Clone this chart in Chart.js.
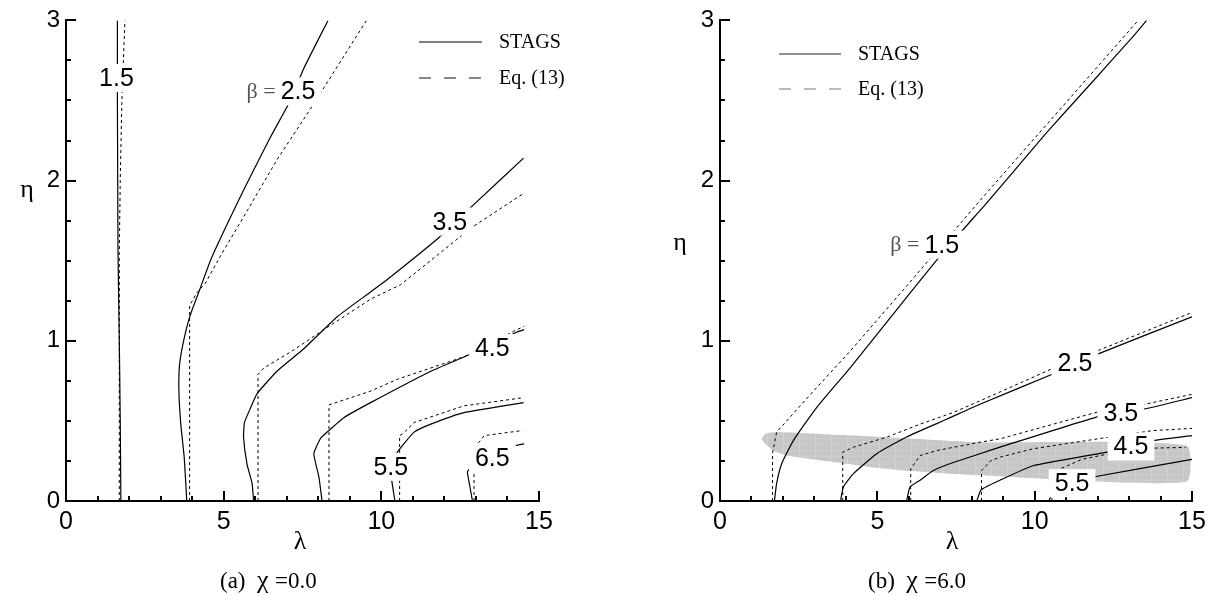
<!DOCTYPE html>
<html>
<head>
<meta charset="utf-8">
<script src="https://cdn.jsdelivr.net/npm/chart.js@4.4.1/dist/chart.umd.min.js"></script>
<style>
  html, body { margin: 0; padding: 0; background: #fff; }
  #wrap { position: relative; width: 1214px; height: 596px; }
  .panel { position: absolute; top: 0; width: 607px; height: 596px; }
</style>
</head>
<body>
<div id="wrap">
  <div class="panel" style="left:0"><canvas id="chartA" width="607" height="596"></canvas></div>
  <div class="panel" style="left:607px"><canvas id="chartB" width="607" height="596"></canvas></div>
</div>
<script>
// ---- contour lines, panel (a): chi = 0.0  ([lambda, eta] pairs) ----
const a15Stags = [[1.74,0],[1.72,0.5],[1.69,1],[1.65,1.55],[1.64,2],[1.63,2.5],[1.63,3]];
const a15Eq    = [[1.69,0],[1.69,0.5],[1.69,1],[1.69,1.55],[1.72,2],[1.77,2.48],[1.82,2.75],[1.87,3]];
const a25Stags = [[3.83,0],[3.75,0.27],[3.64,0.48],[3.58,0.69],[3.60,0.85],[3.73,1.0],[3.94,1.16],[4.26,1.33],[4.62,1.52],[5.63,1.94],[6.48,2.27],[7.09,2.49],[7.54,2.70],[8.31,3.0]];
const a25Eq    = [[3.92,0],[3.92,1.22],[4.15,1.30],[4.42,1.36],[4.90,1.53],[5.80,1.83],[6.69,2.13],[7.86,2.48],[8.18,2.58],[9.53,3.0]];
const a35Stags = [[5.95,0],[5.90,0.11],[5.74,0.23],[5.63,0.40],[5.66,0.49],[5.85,0.58],[6.06,0.67],[6.69,0.81],[7.54,0.95],[8.60,1.15],[9.66,1.305],[10.30,1.40],[11.83,1.645],[12.82,1.83],[14.51,2.14]];
const a35Eq    = [[6.09,0],[6.09,0.79],[6.27,0.83],[7.12,0.93],[8.18,1.07],[9.66,1.26],[10.61,1.35],[12.47,1.645],[12.89,1.71],[14.51,1.92]];
const a45Stags = [[8.12,0],[8.02,0.15],[7.86,0.295],[8.07,0.39],[8.28,0.43],[8.81,0.52],[9.66,0.614],[11.57,0.81],[12.78,0.913],[14.3,1.055],[14.53,1.07]];
const a45Eq    = [[8.34,0],[8.34,0.60],[9.66,0.686],[10.51,0.76],[12.62,0.90],[14.3,1.07],[14.53,1.09]];
const a55Stags = [[10.43,0],[10.33,0.13],[10.30,0.21],[10.51,0.305],[11.04,0.43],[11.57,0.48],[12.62,0.552],[14.51,0.614]];
const a55Eq    = [[10.58,0],[10.58,0.408],[10.67,0.418],[11.04,0.49],[12.62,0.594],[14.51,0.645]];
const a65Stags = [[12.89,0],[12.80,0.10],[12.73,0.18],[12.80,0.20],[14.27,0.346],[14.53,0.357]];
const a65Eq    = [[12.94,0],[12.94,0.34],[13.10,0.367],[13.26,0.408],[14.48,0.44]];

// ---- contour lines, panel (b): chi = 6.0 ----
const b15Stags = [[1.73,0],[1.80,0.11],[1.96,0.233],[2.33,0.377],[3.07,0.583],[4.13,0.83],[5.72,1.22],[7.0,1.53],[8.47,1.86],[9.11,2.006],[10.38,2.3],[11.76,2.6],[13.13,2.9],[13.56,3.0]];
const b15Eq    = [[1.67,0],[1.67,0.30],[1.69,0.32],[1.80,0.43],[2.12,0.50],[2.97,0.686],[4.13,0.934],[5.72,1.294],[8.37,1.90],[13.29,3.0]];
const b25Stags = [[3.83,0],[3.92,0.088],[4.24,0.171],[4.98,0.295],[5.93,0.40],[7.2,0.51],[8.26,0.604],[10.54,0.79],[12.08,0.923],[15,1.15]];
const b25Eq    = [[3.90,0],[3.90,0.305],[4.24,0.336],[5.30,0.398],[6.36,0.48],[7.41,0.552],[8.26,0.625],[10.49,0.82],[12.08,0.944],[15,1.177]];
const b35Stags = [[5.93,0],[6.04,0.088],[6.36,0.13],[6.78,0.19],[7.41,0.24],[8.26,0.295],[8.9,0.336],[12.08,0.53],[13.5,0.575],[15,0.645]];
const b35Eq    = [[6.06,0],[6.06,0.20],[6.36,0.284],[6.89,0.315],[8.26,0.367],[8.9,0.388],[12.08,0.56],[13.5,0.604],[15,0.666]];
const b45Stags = [[8.16,0],[8.30,0.07],[8.9,0.13],[9.95,0.22],[12.29,0.305],[13.77,0.377],[15,0.408]];
const b45Eq    = [[8.31,0],[8.31,0.19],[8.6,0.25],[8.9,0.274],[9.95,0.326],[12.07,0.39],[13.77,0.44],[15,0.453]];
const b55Stags = [[10.45,0],[10.6,0.06],[11.0,0.11],[11.86,0.15],[15,0.26]];
const b55Eq    = [[10.55,0],[10.55,0.12],[10.8,0.20],[11.5,0.26],[12.5,0.30],[13.8,0.33],[14.8,0.335]];

// shaded zone in panel (b)
const bShade = [[1.32,0.39],[1.45,0.42],[1.8,0.43],[3.18,0.418],[5.3,0.398],[8.26,0.367],[14.83,0.346],[14.83,0.12],[8.26,0.16],[5.3,0.2],[3.18,0.254],[2.12,0.284],[1.69,0.315],[1.38,0.37],[1.32,0.39]];

// contour labels: text and [lambda, eta] centre
const aLabelText = ['1.5', '2.5', '3.5', '4.5', '5.5', '6.5'];
const aLabelPos  = [[1.60,2.64],[7.36,2.557],[12.17,1.744],[13.52,0.955],[10.30,0.213],[13.52,0.269]];
const bLabelText = ['1.5', '2.5', '3.5', '4.5', '5.5'];
const bLabelPos  = [[7.05,1.60],[11.28,0.861],[12.74,0.547],[13.06,0.34],[11.19,0.111]];

// axis ticks
const xTickValues = [0, 5, 10, 15];
const yTickValues = [0, 1, 2, 3];

const SANS = '"Liberation Sans", Arial, sans-serif';
const SERIF = '"Liberation Serif", "Times New Roman", serif';

function pts(arr) { return arr.map(p => ({ x: p[0], y: p[1] })); }

function line(arr, dashed) {
  return {
    data: pts(arr),
    showLine: true,
    borderColor: '#000',
    borderWidth: dashed ? 1 : 1.2,
    borderDash: dashed ? [3, 3] : [],
    pointRadius: 0,
    tension: dashed ? 0 : 0.15,
    fill: false,
    order: 0
  };
}

// light mesh texture for the shaded zone
function meshPattern() {
  const c = document.createElement('canvas');
  c.width = 16; c.height = 6;
  const g = c.getContext('2d');
  g.fillStyle = '#c7c7c7';
  g.fillRect(0, 0, 16, 6);
  g.fillStyle = '#d3d3d3';
  g.fillRect(0, 0, 1, 6);
  g.fillStyle = '#cdcdcd';
  g.fillRect(0, 0, 16, 1);
  return g.createPattern(c, 'repeat');
}

function decorPlugin(opt) {
  return {
    id: 'decor',
    afterDraw(chart) {
      const ctx = chart.ctx;
      const x = chart.scales.x, y = chart.scales.y;
      const area = chart.chartArea;
      ctx.save();
      // inward tick marks, majors and minors
      ctx.strokeStyle = '#000';
      ctx.lineWidth = 2;
      ctx.setLineDash([]);
      for (let v = 1; v <= 15; v++) {
        const px = Math.round(x.getPixelForValue(v));
        const len = v % 5 === 0 ? 10 : 5;
        ctx.beginPath(); ctx.moveTo(px, area.bottom); ctx.lineTo(px, area.bottom - len); ctx.stroke();
      }
      for (let k = 1; k <= 12; k++) {
        const v = k * 0.25;
        const py = Math.round(y.getPixelForValue(v));
        const len = k % 4 === 0 ? 10 : 5;
        ctx.beginPath(); ctx.moveTo(area.left, py); ctx.lineTo(area.left + len, py); ctx.stroke();
      }
      // contour labels on white boxes
      ctx.font = '25px ' + SANS;
      ctx.textAlign = 'center';
      ctx.textBaseline = 'middle';
      opt.labelText.forEach((t, i) => {
        const cx = x.getPixelForValue(opt.labelPos[i][0]);
        const cy = y.getPixelForValue(opt.labelPos[i][1]);
        const w = ctx.measureText(t).width;
        ctx.fillStyle = '#fff';
        ctx.fillRect(cx - w / 2 - 6, cy - 14, w + 12, 28);
        ctx.fillStyle = '#000';
        ctx.fillText(t, cx, cy + 1);
        if (i === opt.betaIndex) {
          ctx.save();
          ctx.font = '22px ' + SERIF;
          ctx.fillStyle = '#555';
          ctx.textAlign = 'right';
          ctx.fillText('\u03B2 =', cx - w / 2 - 5, cy + 1);
          ctx.restore();
        }
      });
      // legend
      const lg = opt.legend;
      ctx.lineWidth = 1.2;
      ctx.strokeStyle = lg.solidColor;
      ctx.setLineDash([]);
      ctx.beginPath(); ctx.moveTo(lg.x0, lg.y1); ctx.lineTo(lg.x1, lg.y1); ctx.stroke();
      ctx.strokeStyle = lg.dashColor;
      ctx.setLineDash([12, 13]);
      ctx.beginPath(); ctx.moveTo(lg.x0, lg.y2); ctx.lineTo(lg.x1 + 1, lg.y2); ctx.stroke();
      ctx.setLineDash([]);
      ctx.fillStyle = '#000';
      ctx.font = '20px ' + SERIF;
      ctx.textAlign = 'left';
      ctx.fillText('STAGS', lg.tx, lg.y1 + 1);
      ctx.fillText('Eq. (13)', lg.tx, lg.y2 + 1);
      // axis titles
      ctx.font = '26px ' + SERIF;
      ctx.textAlign = 'center';
      ctx.fillText('\u03BB', opt.lambdaPos[0], opt.lambdaPos[1]);
      ctx.fillText('\u03B7', opt.etaPos[0], opt.etaPos[1]);
      // caption
      ctx.textAlign = 'left';
      ctx.textBaseline = 'alphabetic';
      ctx.font = '23px ' + SERIF;
      ctx.fillText(opt.caption[0], opt.captionPos[0], opt.captionPos[1]);
      const w0 = ctx.measureText(opt.caption[0] + '  ').width;
      ctx.font = '26px ' + SERIF;
      ctx.fillText('\u03C7', opt.captionPos[0] + w0, opt.captionPos[1]);
      const w1 = ctx.measureText('\u03C7 ').width;
      ctx.font = '23px ' + SERIF;
      ctx.fillText(opt.caption[1], opt.captionPos[0] + w0 + w1, opt.captionPos[1]);
      ctx.restore();
    }
  };
}

function makeChart(id, datasets, padLeft, padRight, decor) {
  return new Chart(document.getElementById(id), {
    type: 'scatter',
    data: { datasets },
    options: {
      responsive: false,
      animation: false,
      events: [],
      layout: { padding: { left: padLeft, right: padRight, top: 16, bottom: 55 } },
      plugins: { legend: { display: false }, tooltip: { enabled: false } },
      scales: {
        x: {
          type: 'linear', min: 0, max: 15,
          afterBuildTicks: s => { s.ticks = xTickValues.map(v => ({ value: v })); },
          afterFit: s => { s.height = 40; },
          grid: { display: false, drawTicks: false },
          border: { display: true, color: '#000', width: 2 },
          ticks: { color: '#000', padding: 6, font: { family: SANS, size: 25 } }
        },
        y: {
          type: 'linear', min: 0, max: 3,
          afterBuildTicks: s => { s.ticks = yTickValues.map(v => ({ value: v })); },
          afterFit: s => { s.width = 66; },
          grid: { display: false, drawTicks: false },
          border: { display: true, color: '#000', width: 2 },
          ticks: { color: '#000', padding: 6, font: { family: SANS, size: 24 } }
        }
      }
    },
    plugins: [decorPlugin(decor)]
  });
}

const dsA = [
  line(a15Stags, false), line(a15Eq, true),
  line(a25Stags, false), line(a25Eq, true),
  line(a35Stags, false), line(a35Eq, true),
  line(a45Stags, false), line(a45Eq, true),
  line(a55Stags, false), line(a55Eq, true),
  line(a65Stags, false), line(a65Eq, true)
];

const dsB = [
  line(b15Stags, false), line(b15Eq, true),
  line(b25Stags, false), line(b25Eq, true),
  line(b35Stags, false), line(b35Eq, true),
  line(b45Stags, false), line(b45Eq, true),
  line(b55Stags, false), line(b55Eq, true),
  {
    data: pts(bShade), showLine: true, pointRadius: 0, tension: 0.2,
    borderWidth: 0, borderColor: 'rgba(0,0,0,0)', backgroundColor: meshPattern(),
    fill: 'shape', order: 10
  }
];

makeChart('chartA', dsA, 0, 68, {
  labelText: aLabelText, labelPos: aLabelPos, betaIndex: 1,
  legend: { x0: 419, x1: 482, y1: 42, y2: 78, tx: 499, solidColor: '#000', dashColor: '#111' },
  lambdaPos: [300, 542], etaPos: [27, 190],
  caption: ['(a)', '=0.0'], captionPos: [220, 588]
});

makeChart('chartB', dsB, 47, 22, {
  labelText: bLabelText, labelPos: bLabelPos, betaIndex: 0,
  legend: { x0: 172, x1: 234, y1: 54, y2: 89, tx: 251, solidColor: '#222', dashColor: '#777' },
  lambdaPos: [345, 542], etaPos: [73, 243],
  caption: ['(b)', '=6.0'], captionPos: [261, 588]
});
</script>
</body>
</html>
